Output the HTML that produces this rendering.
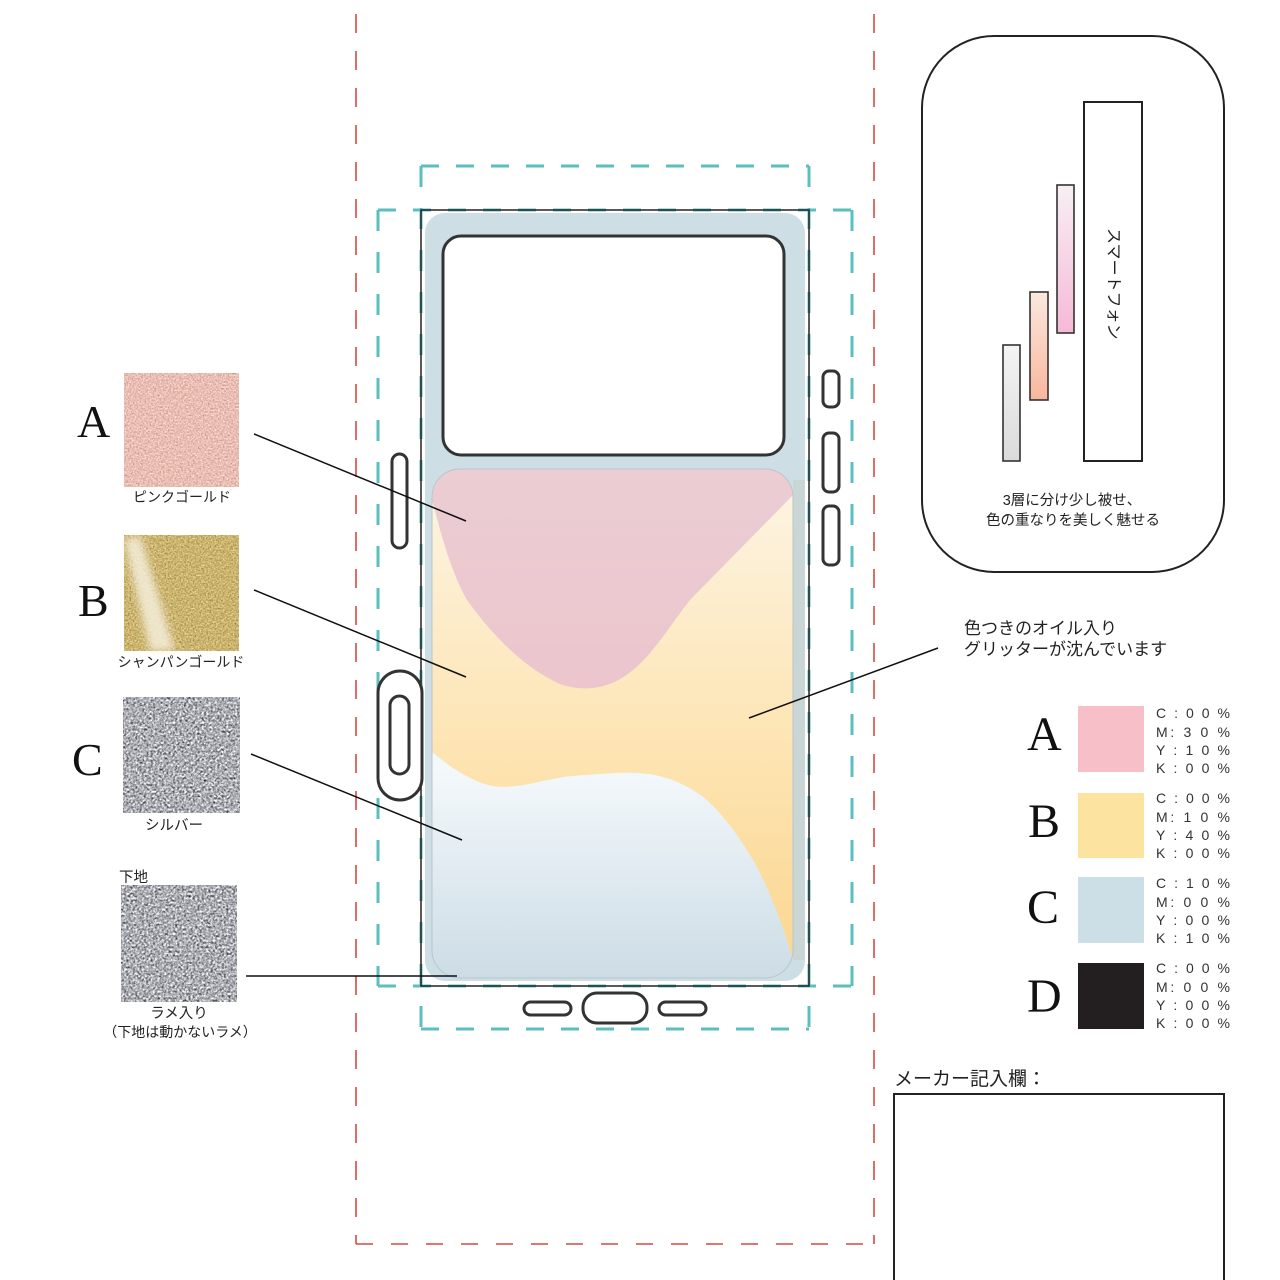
<!DOCTYPE html>
<html><head><meta charset="utf-8"><style>
html,body{margin:0;padding:0;background:#fff;}
svg{display:block;}
text{font-family:"Liberation Sans","Noto Sans CJK JP",sans-serif;fill:#222;}
.serif{font-family:"Liberation Serif",serif;fill:#111;}
.cm{font-size:14px;fill:#333;}
</style></head><body>
<svg width="1280" height="1280" viewBox="0 0 1280 1280" xmlns="http://www.w3.org/2000/svg">
<defs>
  <filter id="fPink" x="0" y="0" width="1" height="1" color-interpolation-filters="sRGB">
    <feTurbulence type="fractalNoise" baseFrequency="0.6" numOctaves="2" seed="4"/>
    <feColorMatrix type="matrix" values="0.33 0.33 0.33 0 0 0.33 0.33 0.33 0 0 0.33 0.33 0.33 0 0 0 0 0 0 1"/>
    <feComponentTransfer>
      <feFuncR type="linear" slope="0.7" intercept="0.57"/>
      <feFuncG type="linear" slope="0.8" intercept="0.35"/>
      <feFuncB type="linear" slope="0.8" intercept="0.31"/>
    </feComponentTransfer>
  </filter>
  <filter id="fGold" x="0" y="0" width="1" height="1" color-interpolation-filters="sRGB">
    <feTurbulence type="fractalNoise" baseFrequency="0.6" numOctaves="2" seed="9"/>
    <feColorMatrix type="matrix" values="0.33 0.33 0.33 0 0 0.33 0.33 0.33 0 0 0.33 0.33 0.33 0 0 0 0 0 0 1"/>
    <feComponentTransfer>
      <feFuncR type="linear" slope="0.9" intercept="0.35"/>
      <feFuncG type="linear" slope="0.9" intercept="0.26"/>
      <feFuncB type="linear" slope="0.8" intercept="0.04"/>
    </feComponentTransfer>
  </filter>
  <filter id="fSilver" x="0" y="0" width="1" height="1" color-interpolation-filters="sRGB">
    <feTurbulence type="fractalNoise" baseFrequency="0.45" numOctaves="3" seed="2"/>
    <feColorMatrix type="matrix" values="0.33 0.33 0.33 0 0 0.33 0.33 0.33 0 0 0.33 0.33 0.33 0 0 0 0 0 0 1"/>
    <feComponentTransfer>
      <feFuncR type="linear" slope="2.0" intercept="-0.32"/>
      <feFuncG type="linear" slope="2.0" intercept="-0.31"/>
      <feFuncB type="linear" slope="2.0" intercept="-0.29"/>
    </feComponentTransfer>
  </filter>
  <filter id="blur4"><feGaussianBlur stdDeviation="4"/></filter>
  <linearGradient id="gPinkBar" x1="0" y1="0" x2="0" y2="1"><stop offset="0" stop-color="#f7eff3"/><stop offset="1" stop-color="#f6b9d8"/></linearGradient>
  <linearGradient id="gSalBar" x1="0" y1="0" x2="0" y2="1"><stop offset="0" stop-color="#fbe8df"/><stop offset="1" stop-color="#f8b79d"/></linearGradient>
  <linearGradient id="gGrayBar" x1="0" y1="0" x2="0" y2="1"><stop offset="0" stop-color="#f4f4f4"/><stop offset="1" stop-color="#dadada"/></linearGradient>
  <linearGradient id="gCream" gradientUnits="userSpaceOnUse" x1="0" y1="480" x2="0" y2="975"><stop offset="0" stop-color="#fdf4e3"/><stop offset="0.55" stop-color="#fde4b2"/><stop offset="1" stop-color="#fbd68f"/></linearGradient>
  <linearGradient id="gBlue" gradientUnits="userSpaceOnUse" x1="0" y1="770" x2="0" y2="975"><stop offset="0" stop-color="#f3f8fb"/><stop offset="1" stop-color="#cddde6"/></linearGradient>
  <linearGradient id="gPinkR" gradientUnits="userSpaceOnUse" x1="0" y1="470" x2="0" y2="690"><stop offset="0" stop-color="#ebcdd3"/><stop offset="1" stop-color="#ecc5cd"/></linearGradient>
  <clipPath id="lowClip"><rect x="432" y="469" width="361" height="509" rx="28"/></clipPath>
</defs>

<!-- red dashed bleed lines -->
<g stroke="#d24a43" stroke-width="1.6" fill="none" stroke-dasharray="19 18">
  <line x1="356" y1="14" x2="356" y2="1244"/>
  <line x1="874" y1="14" x2="874" y2="1244"/>
  <line x1="356" y1="1244" x2="874" y2="1244" stroke-dasharray="17 18"/>
</g>

<!-- phone body -->
<rect x="425" y="213" width="380" height="768" rx="20" fill="#cddfe5"/>
<rect x="793" y="480" width="12" height="480" fill="#c9d6d5"/>
<rect x="443" y="236" width="341" height="219" rx="18" fill="#fff" stroke="#333" stroke-width="3"/>

<!-- lower decorated area -->
<g clip-path="url(#lowClip)">
  <rect x="432" y="469" width="361" height="509" fill="url(#gCream)"/>
  <path d="M425,460 H800 V488 L690,600 C665,632 650,660 622,678 C602,690 580,691 560,684 C522,667 490,632 467,600 C450,570 440,530 433,503 L425,500 Z" fill="url(#gPinkR)"/>
  <path d="M425,746 C450,768 478,787 503,787 C530,786 550,778 572,776 C600,774 620,772 637,773 C662,774 682,782 702,796 C722,812 740,838 753,860 C770,890 785,930 795,967 L800,990 L425,990 Z" fill="url(#gBlue)"/>
</g>
<rect x="432" y="469" width="361" height="509" rx="28" fill="none" stroke="#b9c6cb" stroke-width="1"/>

<!-- cyan dashed guides -->
<g stroke="#5bbfc0" stroke-width="3" fill="none">
  <g stroke-dasharray="18 17">
    <line x1="421" y1="166" x2="809" y2="166"/>
    <line x1="421" y1="1029" x2="809" y2="1029"/>
    <line x1="378" y1="210" x2="852" y2="210"/>
    <line x1="378" y1="986" x2="852" y2="986"/>
  </g>
  <g stroke-dasharray="21 21">
    <line x1="421" y1="166" x2="421" y2="1029"/>
    <line x1="809" y1="166" x2="809" y2="1029"/>
    <line x1="378" y1="210" x2="378" y2="986"/>
    <line x1="852" y1="210" x2="852" y2="986"/>
  </g>
</g>
<rect x="421" y="210" width="388" height="776" fill="none" stroke="#222" stroke-width="1.5"/>

<!-- side/bottom buttons -->
<g stroke="#333" stroke-width="3" fill="#fff">
  <rect x="392" y="454" width="15" height="94" rx="7.5"/>
  <rect x="378" y="671" width="44" height="129" rx="22"/>
  <rect x="390" y="696" width="19" height="78" rx="9.5"/>
  <rect x="823" y="371" width="16" height="36" rx="6"/>
  <rect x="823" y="433" width="16" height="59" rx="6"/>
  <rect x="823" y="506" width="16" height="59" rx="6"/>
  <rect x="524" y="1002" width="47" height="13" rx="6.5"/>
  <rect x="583" y="993" width="64" height="30" rx="14"/>
  <rect x="659" y="1002" width="47" height="13" rx="6.5"/>
</g>

<!-- leader lines -->
<g stroke="#111" stroke-width="1.5">
  <line x1="254" y1="434" x2="466" y2="521"/>
  <line x1="254" y1="590" x2="466" y2="677"/>
  <line x1="251" y1="754" x2="462" y2="840"/>
  <line x1="246" y1="976" x2="457" y2="976"/>
  <line x1="938" y1="648" x2="749" y2="718"/>
</g>

<!-- left swatches -->
<text class="serif" x="77" y="437" font-size="46">A</text>
<rect x="124" y="373" width="115" height="114" fill="#fff" filter="url(#fPink)"/>
<text x="182" y="502" font-size="14" text-anchor="middle">ピンクゴールド</text>

<text class="serif" x="78" y="616" font-size="46">B</text>
<rect x="124" y="535" width="115" height="116" fill="#fff" filter="url(#fGold)"/>
<path d="M124,540 L140,535 L175,651 L150,651 Z" fill="#f4eedb" opacity="0.85" filter="url(#blur4)"/>
<text x="181" y="667" font-size="14" text-anchor="middle">シャンパンゴールド</text>

<text class="serif" x="72" y="775" font-size="46">C</text>
<rect x="123" y="697" width="117" height="116" fill="#fff" filter="url(#fSilver)"/>
<text x="174" y="830" font-size="14.5" text-anchor="middle">シルバー</text>

<text x="119" y="882" font-size="14.5">下地</text>
<rect x="121" y="885" width="116" height="117" fill="#fff" filter="url(#fSilver)"/>
<text x="179" y="1018" font-size="14.5" text-anchor="middle">ラメ入り</text>
<text x="180" y="1037" font-size="14" text-anchor="middle">（下地は動かないラメ）</text>

<!-- top right layer diagram -->
<rect x="922" y="36" width="302" height="536" rx="72" fill="#fff" stroke="#222" stroke-width="2"/>
<rect x="1084" y="102" width="58" height="359" fill="#fff" stroke="#222" stroke-width="2"/>
<text transform="translate(1113,228) rotate(90)" font-size="16" dominant-baseline="central" fill="#222">スマートフォン</text>
<rect x="1057" y="185" width="17" height="148" fill="url(#gPinkBar)" stroke="#333" stroke-width="1.6"/>
<rect x="1030" y="292" width="18" height="108" fill="url(#gSalBar)" stroke="#333" stroke-width="1.6"/>
<rect x="1003" y="345" width="17" height="116" fill="url(#gGrayBar)" stroke="#333" stroke-width="1.6"/>
<text x="1072" y="505" font-size="14.5" text-anchor="middle">3層に分け少し被せ、</text>
<text x="1073" y="525" font-size="14.5" text-anchor="middle">色の重なりを美しく魅せる</text>

<!-- oil text -->
<text x="964" y="634" font-size="17">色つきのオイル入り</text>
<text x="964" y="655" font-size="17">グリッターが沈んでいます</text>

<!-- color chips -->
<text class="serif" x="1027" y="750" font-size="48">A</text>
<rect x="1078" y="706" width="66" height="66" fill="#f7bfc8"/>
<text class="serif" x="1028" y="837" font-size="48">B</text>
<rect x="1078" y="793" width="66" height="65" fill="#fde3a0"/>
<text class="serif" x="1027" y="923" font-size="48">C</text>
<rect x="1078" y="877" width="66" height="66" fill="#cddfe6"/>
<text class="serif" x="1027" y="1012" font-size="48">D</text>
<rect x="1078" y="963" width="66" height="66" fill="#231f20"/>

<g class="cm">
  <text class="cm" x="1156" y="718" textLength="74" lengthAdjust="spacing">C : 0 0 %</text>
  <text class="cm" x="1156" y="737" textLength="74" lengthAdjust="spacing">M: 3 0 %</text>
  <text class="cm" x="1156" y="755" textLength="74" lengthAdjust="spacing">Y : 1 0 %</text>
  <text class="cm" x="1156" y="773" textLength="74" lengthAdjust="spacing">K : 0 0 %</text>

  <text class="cm" x="1156" y="803" textLength="74" lengthAdjust="spacing">C : 0 0 %</text>
  <text class="cm" x="1156" y="822" textLength="74" lengthAdjust="spacing">M: 1 0 %</text>
  <text class="cm" x="1156" y="840" textLength="74" lengthAdjust="spacing">Y : 4 0 %</text>
  <text class="cm" x="1156" y="858" textLength="74" lengthAdjust="spacing">K : 0 0 %</text>

  <text class="cm" x="1156" y="888" textLength="74" lengthAdjust="spacing">C : 1 0 %</text>
  <text class="cm" x="1156" y="907" textLength="74" lengthAdjust="spacing">M: 0 0 %</text>
  <text class="cm" x="1156" y="925" textLength="74" lengthAdjust="spacing">Y : 0 0 %</text>
  <text class="cm" x="1156" y="943" textLength="74" lengthAdjust="spacing">K : 1 0 %</text>

  <text class="cm" x="1156" y="973" textLength="74" lengthAdjust="spacing">C : 0 0 %</text>
  <text class="cm" x="1156" y="992" textLength="74" lengthAdjust="spacing">M: 0 0 %</text>
  <text class="cm" x="1156" y="1010" textLength="74" lengthAdjust="spacing">Y : 0 0 %</text>
  <text class="cm" x="1156" y="1028" textLength="74" lengthAdjust="spacing">K : 0 0 %</text>
</g>

<!-- maker box -->
<text x="894" y="1085" font-size="19">メーカー記入欄：</text>
<rect x="894" y="1094" width="330" height="200" fill="#fff" stroke="#222" stroke-width="2"/>
</svg>
</body></html>
